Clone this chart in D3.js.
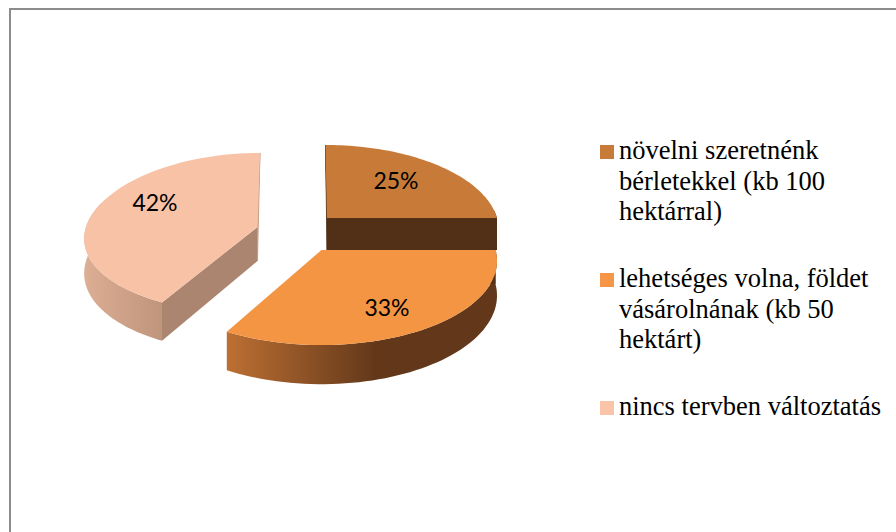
<!DOCTYPE html>
<html><head><meta charset="utf-8">
<script src="https://cdn.jsdelivr.net/npm/d3@7/dist/d3.min.js"></script>
<style>html,body{margin:0;padding:0;background:#fff}svg{display:block}</style></head>
<body><svg id="c" width="896" height="532"></svg>
<script>
const categories = ["növelni szeretnénk bérletekkel (kb 100 hektárral)","lehetséges volna, földet vásárolnának (kb 50 hektárt)","nincs tervben változtatás"];
const legendLines = [["növelni szeretnénk","bérletekkel (kb 100","hektárral)"],["lehetséges volna, földet","vásárolnának (kb 50","hektárt)"],["nincs tervben változtatás"]];
const values = [25,33,42];
const topColors = ["#c87b38","#f49543","#f7c2a6"];
const legendColors = ["#c87b38","#f79646","#fac4a9"];
const innerWall = ["#523017","#523017","#ab8570"];
const outerStops = [["#523017","#523017"],["#bd7033","#63381a"],["#dcae94","#bf957c"]];

const svg = d3.select("#c");
// frame
svg.append("path").attr("d","M10,532V9H896").attr("fill","none").attr("stroke","#8c8c8c").attr("stroke-width",2);

// slice placement in the tilted view
const place = [
 {cx:327,cy:218,rx:170,A:82.6,kx:.131,ky:.131,skew:-1.5,D:32,gx:[327,497]},
 {cx:321.5,cy:250,rx:174,A:82.6,kx:.131,ky:.131,skew:0,D:34,gx:[226,375]},
 {cx:257.5,cy:227,rx:171.5,A:80,kx:.131,ky:.08,skew:2.5,D:34,gx:[85,161]}
];
const proj = (p,t,drop=0)=>{
  const s=Math.sin(t),c=Math.cos(t);
  return [p.cx+p.rx*s/(1+p.kx*c)+p.skew*c, p.cy-p.A*c/(1+p.ky*c)+drop*p.D/(1+p.kx*c)];
};
const pie = d3.pie().sort(null).value(d=>d)(values);
const defs = svg.append("defs");
pie.forEach((a,i)=>{
  const g=defs.append("linearGradient").attr("id","w"+i).attr("gradientUnits","userSpaceOnUse")
    .attr("x1",place[i].gx[0]).attr("x2",place[i].gx[1]).attr("y1",0).attr("y2",0);
  g.append("stop").attr("offset",0).attr("stop-color",outerStops[i][0]);
  g.append("stop").attr("offset",1).attr("stop-color",outerStops[i][1]);
});
const line=d3.line();
const arcPts=(p,t0,t1,drop)=>d3.range(0,61).map(j=>proj(p,t0+(t1-t0)*j/60,drop));

pie.forEach((a,i)=>{
  const p=place[i], g=svg.append("g");
  const apex=[p.cx,p.cy], apexB=[p.cx,p.cy+p.D];
  // outer wall
  const t0=Math.max(a.startAngle,Math.PI/2-.1), t1=Math.min(a.endAngle,Math.PI*1.6);
  if(t1>t0){
    g.append("path").attr("d",line(arcPts(p,t0,t1,0).concat(arcPts(p,t1,t0,1)))+"Z").attr("fill",`url(#w${i})`);
  }
  // cut faces
  const faces = i===0 ? [a.endAngle] : [a.startAngle];
  faces.forEach(t=>{
    const e=proj(p,t,0), eb=proj(p,t,1);
    g.append("path").attr("d",line([apex,e,eb,apexB])+"Z").attr("fill",innerWall[i]);
  });
  // thin sliver at the far cut edge
  if(i!==1){
    const t=i===0?a.startAngle:a.endAngle, e=proj(p,t,0);
    g.append("path").attr("d",line([e,apex,apexB])+"Z").attr("fill",i===0?innerWall[0]:"#c59a80")
      .attr("stroke",i===0?innerWall[0]:"#c59a80").attr("stroke-width",.8);
  }
  // top surface
  g.append("path").attr("d",line([apex].concat(arcPts(p,a.startAngle,a.endAngle,0)))+"Z").attr("fill",topColors[i]);
});

// data labels
const labelPos=[[396,180],[387,307],[155,202]];
pie.forEach((a,i)=>{
  svg.append("text").attr("x",labelPos[i][0]).attr("y",labelPos[i][1]).attr("text-anchor","middle")
    .attr("dominant-baseline","central").attr("font-family","Lato").attr("font-size",23).attr("fill","#000")
    .text(d3.format(".0%")(a.value/100));
});

// legend
const legendBase=[159,287,415], lh=30.5;
legendLines.forEach((ls,i)=>{
  svg.append("rect").attr("x",600).attr("y",legendBase[i]-14).attr("width",14).attr("height",14).attr("fill",legendColors[i]);
  ls.forEach((t,j)=>svg.append("text").attr("x",619).attr("y",legendBase[i]+j*lh)
    .attr("font-family","Liberation Serif").attr("font-size",26.5).attr("fill","#000").text(t));
});
</script></body></html>
